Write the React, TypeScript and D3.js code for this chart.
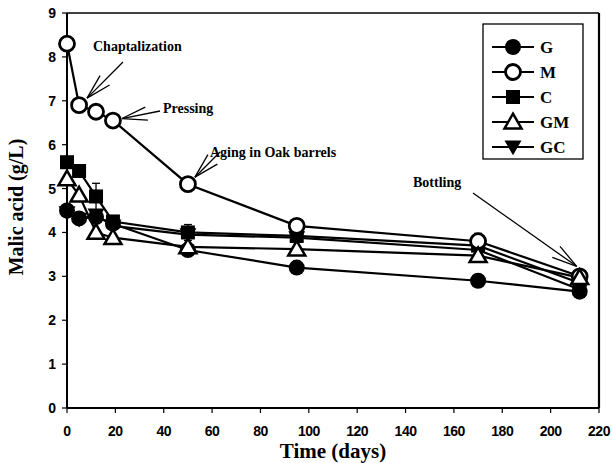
import React from "react";
import * as d3 from "d3";

const days = [0, 5, 12, 19, 50, 95, 170, 212];
const seriesNames = ["G", "M", "C", "GM", "GC"];
const G = [4.5, 4.32, 4.35, 4.2, 3.6, 3.2, 2.9, 2.65];
const M = [8.3, 6.9, 6.75, 6.55, 5.1, 4.15, 3.8, 3.0];
const C = [5.6, 5.4, 4.82, 4.25, 4.0, 3.92, 3.7, 2.85];
const GM = [5.22, 4.85, 4.0, 3.88, 3.67, 3.62, 3.47, 2.97];
const GC = [4.45, 4.3, 4.4, 4.15, 3.95, 3.88, 3.6, 2.7];
const errC = [0, 0.08, 0.3, 0, 0.18, 0.05, 0, 0];
const errM = [0, 0, 0, 0, 0, 0.03, 0.18, 0.06];
const errGC = [0, 0, 0, 0, 0, 0, 0, 0.18];
const xTicks = [0, 20, 40, 60, 80, 100, 120, 140, 160, 180, 200, 220];
const yTicks = [0, 1, 2, 3, 4, 5, 6, 7, 8, 9];

const annotations = [
  { text: "Chaptalization", tx: 93, ty: 51, idx: 1, from: [123, 62], tipOff: [8, -7] },
  { text: "Pressing", tx: 163, ty: 113, idx: 3, from: [160, 111], tipOff: [9, -2] },
  { text: "Aging in Oak barrels", tx: 210, ty: 157, idx: 4, from: [220, 152], tipOff: [7, -7] },
  { text: "Bottling", tx: 413, ty: 187, idx: 7, from: [473, 193], tipOff: [-3, -10] },
];

const W = 613, H = 463;
const L = 67, R = 599, T = 13, B = 408;

type Kind = "fcircle" | "ocircle" | "square" | "otri" | "ftri";

function Marker({ kind, x, y }: { kind: Kind; x: number; y: number }) {
  if (kind === "fcircle") return <circle cx={x} cy={y} r={8} fill="#000" />;
  if (kind === "ocircle") return <circle cx={x} cy={y} r={7.5} fill="#fff" stroke="#000" strokeWidth={2.8} />;
  if (kind === "square") return <rect x={x - 7} y={y - 7} width={14} height={14} fill="#000" />;
  const p = d3.symbol(d3.symbolTriangle, 125)() as string;
  if (kind === "otri")
    return <path d={p} transform={`translate(${x},${y + 1.5})`} fill="#fff" stroke="#000" strokeWidth={2.5} />;
  return <path d={p} transform={`translate(${x},${y - 1.5}) rotate(180)`} fill="#000" />;
}

export default function App() {
  const x = d3.scaleLinear().domain([0, 220]).range([L, R]);
  const y = d3.scaleLinear().domain([0, 9]).range([B, T]);
  const line = d3.line<number>().x((_, i) => x(days[i])).y((v) => y(v));

  const series: { name: string; vals: number[]; kind: Kind; err?: number[] }[] = [
    { name: "G", vals: G, kind: "fcircle" },
    { name: "C", vals: C, kind: "square", err: errC },
    { name: "GC", vals: GC, kind: "ftri", err: errGC },
    { name: "M", vals: M, kind: "ocircle", err: errM },
    { name: "GM", vals: GM, kind: "otri" },
  ];
  const legendKinds: Record<string, Kind> = { G: "fcircle", M: "ocircle", C: "square", GM: "otri", GC: "ftri" };

  const arrow = (fx: number, fy: number, tx: number, ty: number, key: string) => {
    const ang = Math.atan2(fy - ty, fx - tx);
    const len = 26, sp = 0.26;
    const b1 = [tx + len * Math.cos(ang + sp), ty + len * Math.sin(ang + sp)];
    const b2 = [tx + len * Math.cos(ang - sp), ty + len * Math.sin(ang - sp)];
    return (
      <g key={key} stroke="#000" strokeWidth={1.3}>
        <line x1={fx} y1={fy} x2={tx} y2={ty} />
        <line x1={b1[0]} y1={b1[1]} x2={tx} y2={ty} />
        <line x1={b2[0]} y1={b2[1]} x2={tx} y2={ty} />
      </g>
    );
  };

  return (
    <svg width={W} height={H} style={{ position: "absolute", left: 0, top: 0, background: "#fff" }}>
      <rect x={0} y={0} width={W} height={H} fill="#fff" />
      {/* frame */}
      <line x1={L} y1={T} x2={R} y2={T} stroke="#000" strokeWidth={1.5} />
      <line x1={R} y1={T} x2={R} y2={B} stroke="#000" strokeWidth={2.2} />
      <line x1={L} y1={T} x2={L} y2={B} stroke="#000" strokeWidth={2} />
      <line x1={L} y1={B} x2={R} y2={B} stroke="#000" strokeWidth={2} />
      {yTicks.map((t) => (
        <g key={"y" + t}>
          <line x1={L - 5} y1={y(t)} x2={L} y2={y(t)} stroke="#000" strokeWidth={1.2} />
          <text x={L - 11} y={y(t) + 5} textAnchor="end" fontFamily="Liberation Sans, Arial" fontWeight="bold" fontSize={14}>
            {t}
          </text>
        </g>
      ))}
      {xTicks.map((t) => (
        <g key={"x" + t}>
          <line x1={x(t)} y1={B} x2={x(t)} y2={B + 5} stroke="#000" strokeWidth={1.2} />
          <text x={x(t)} y={B + 28} textAnchor="middle" fontFamily="Liberation Sans, Arial" fontWeight="bold" fontSize={14} letterSpacing={-0.5}>
            {t}
          </text>
        </g>
      ))}
      <text x={333} y={458} textAnchor="middle" fontFamily="Liberation Serif, Times New Roman" fontWeight="bold" fontSize={21}>
        Time (days)
      </text>
      <text transform={`translate(23,207) rotate(-90)`} textAnchor="middle" fontFamily="Liberation Serif, Times New Roman" fontWeight="bold" fontSize={20}>
        Malic acid (g/L)
      </text>

      {series.map((s) => (
        <path key={"l" + s.name} d={line(s.vals) as string} fill="none" stroke="#000" strokeWidth={2.2} />
      ))}
      {series.map((s) =>
        s.err
          ? s.err.map((e, i) =>
              e > 0 ? (
                <g key={"e" + s.name + i} stroke="#000" strokeWidth={1.3}>
                  <line x1={x(days[i])} x2={x(days[i])} y1={y(s.vals[i] - e)} y2={y(s.vals[i] + e)} />
                  <line x1={x(days[i]) - 4} x2={x(days[i]) + 4} y1={y(s.vals[i] + e)} y2={y(s.vals[i] + e)} />
                  <line x1={x(days[i]) - 4} x2={x(days[i]) + 4} y1={y(s.vals[i] - e)} y2={y(s.vals[i] - e)} />
                </g>
              ) : null
            )
          : null
      )}
      {series.map((s) => (
        <g key={"m" + s.name}>
          {s.vals.map((v, i) => (
            <Marker key={i} kind={s.kind} x={x(days[i])} y={y(v)} />
          ))}
        </g>
      ))}

      {annotations.map((a) => (
        <g key={a.text}>
          <text x={a.tx} y={a.ty} fontFamily="Liberation Serif, Times New Roman" fontWeight="bold" fontSize={14}>
            {a.text}
          </text>
          {arrow(a.from[0], a.from[1], x(days[a.idx]) + a.tipOff[0], y(M[a.idx]) + a.tipOff[1], a.text)}
        </g>
      ))}

      {/* legend */}
      <rect x={483} y={24} width={100} height={135} fill="#fff" stroke="#000" strokeWidth={1.3} />
      {seriesNames.map((n, i) => {
        const ly = 47 + i * 25;
        return (
          <g key={"lg" + n}>
            <line x1={492} x2={534} y1={ly} y2={ly} stroke="#000" strokeWidth={2.2} />
            <Marker kind={legendKinds[n]} x={513} y={ly} />
            <text x={540} y={ly + 6} fontFamily="Liberation Serif, Times New Roman" fontWeight="bold" fontSize={17}>
              {n}
            </text>
          </g>
        );
      })}
    </svg>
  );
}
